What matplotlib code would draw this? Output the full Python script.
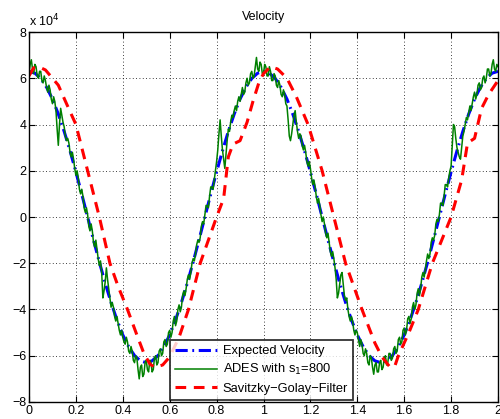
import matplotlib
matplotlib.use('Agg')
import matplotlib.pyplot as plt
import numpy as np

plt.rcParams['font.family'] = ['Liberation Sans', 'DejaVu Sans']

# values in units of 1e4
expected_vel = [6.30, 6.22, 5.99, 5.61, 5.10, 4.45, 3.70, 2.86, 1.95, 0.99,
                0.00, -0.99, -1.95, -2.86, -3.70, -4.45, -5.10, -5.61, -5.99, -6.22,
                -6.30, -6.22, -5.99, -5.61, -5.10, -4.45, -3.70, -2.86, -1.95, -0.99,
                0.00, 0.99, 1.95, 2.86, 3.70, 4.45, 5.10, 5.61, 5.99, 6.22,
                6.30, 6.22, 5.99, 5.61, 5.10, 4.45, 3.70, 2.86, 1.95, 0.99,
                0.00, -0.99, -1.95, -2.86, -3.70, -4.45, -5.10, -5.61, -5.99, -6.22,
                -6.30, -6.22, -5.99, -5.61, -5.10, -4.45, -3.70, -2.86, -1.95, -0.99,
                0.00, 0.99, 1.95, 2.86, 3.70, 4.45, 5.10, 5.61, 5.99, 6.22,
                6.30]

# ADES estimate, one value every 0.005 s
ades_vel = [
    6.2, 6.6, 6.8, 6.4, 6.2, 6.6, 6.5, 6.1, 6.0, 6.3, 6.3, 5.9, 5.8, 6.1, 5.9, 5.6, 5.4, 5.7, 5.5, 5.1,
    4.9, 5.2, 5.0, 4.6, 3.8, 3.1, 4.0, 4.7, 4.4, 4.1, 3.9, 3.5, 3.3, 3.4, 3.2, 2.8, 2.6, 2.8, 2.5, 2.1,
    1.8, 2.0, 1.7, 1.2, 1.0, 1.2, 0.9, 0.4, 0.2, 0.4, 0.1, -0.4, -0.6, -0.3, -0.6, -1.1, -1.3, -1.0, -1.4, -1.8,
    -2.1, -1.9, -2.4, -3.5, -3.2, -2.8, -2.2, -2.7, -3.1, -3.5, -3.9, -3.7, -3.9, -4.3, -4.5, -4.3, -4.6, -4.9, -5.1, -4.9,
    -5.2, -5.4, -5.5, -5.2, -5.4, -5.8, -5.9, -5.6, -5.8, -6.2, -6.3, -6.0, -6.1, -6.6, -7.0, -6.5, -6.4, -6.9, -6.8, -6.3,
    -6.2, -6.6, -6.7, -6.2, -6.3, -6.7, -6.6, -6.1, -6.0, -6.4, -6.3, -5.8, -5.7, -6.0, -5.9, -5.4, -5.3, -5.6, -5.5, -5.0,
    -4.9, -5.2, -5.0, -4.5, -4.3, -4.7, -4.5, -4.0, -3.8, -4.1, -3.9, -3.4, -3.2, -3.4, -3.1, -2.7, -2.5, -2.7, -2.4, -2.0,
    -1.8, -1.9, -1.6, -1.2, -1.0, -1.1, -0.9, -0.4, -0.2, -0.3, 0.1, 0.5, 0.5, 0.4, 0.9, 1.3, 1.3, 1.2, 1.6, 2.0,
    2.4, 2.9, 3.6, 4.2, 3.5, 2.9, 2.5, 2.1, 2.7, 3.3, 3.8, 3.7, 4.1, 4.4, 4.3, 4.6, 4.8, 4.6, 5.0, 5.2,
    5.0, 5.3, 5.6, 5.3, 5.4, 5.8, 6.0, 5.7, 5.8, 6.2, 6.3, 6.0, 6.1, 6.5, 6.9, 6.4, 6.3, 6.7, 6.6, 6.2,
    6.2, 6.6, 6.5, 6.1, 6.1, 6.5, 6.3, 5.9, 5.9, 6.2, 6.1, 5.7, 5.6, 5.9, 5.7, 5.3, 5.2, 5.5, 5.3, 4.9,
    4.8, 4.2, 3.5, 3.3, 3.6, 4.0, 4.4, 4.6, 4.1, 3.7, 3.4, 3.6, 3.5, 3.1, 2.9, 3.1, 2.8, 2.4, 2.2, 2.4,
    2.1, 1.7, 1.4, 1.6, 1.3, 0.9, 0.6, 0.8, 0.5, 0.1, -0.2, 0.0, -0.3, -0.7, -0.9, -0.7, -1.1, -1.5, -1.7, -1.5,
    -1.8, -2.2, -2.7, -3.5, -3.3, -2.9, -2.5, -2.4, -2.9, -3.4, -3.6, -3.5, -4.0, -4.3, -4.5, -4.3, -4.5, -4.9, -5.1, -4.9,
    -5.0, -5.3, -5.6, -5.3, -5.5, -5.9, -6.0, -5.7, -5.9, -6.3, -6.4, -6.0, -6.1, -6.5, -6.8, -6.4, -6.3, -6.7, -6.7, -6.3,
    -6.2, -6.6, -6.5, -6.1, -6.0, -6.4, -6.3, -5.9, -5.9, -6.2, -6.1, -5.7, -5.6, -5.9, -5.8, -5.3, -5.2, -5.5, -5.4, -4.9,
    -4.8, -5.1, -4.9, -4.4, -4.3, -4.6, -4.4, -3.9, -3.7, -4.0, -3.8, -3.3, -3.1, -3.4, -3.1, -2.6, -2.4, -2.6, -2.3, -1.9,
    -1.6, -1.8, -1.6, -1.1, -0.9, -1.0, -0.8, -0.3, -0.1, -0.2, 0.1, 0.6, 0.6, 0.5, 0.9, 1.4, 1.4, 1.3, 1.7, 2.0,
    2.2, 3.1, 4.0, 3.9, 3.4, 3.0, 2.8, 2.6, 2.5, 3.0, 3.5, 3.7, 4.0, 4.3, 4.2, 4.5, 4.8, 4.6, 4.9, 5.2,
    5.4, 5.1, 5.3, 5.7, 5.8, 5.5, 5.6, 6.0, 6.1, 5.8, 6.0, 6.4, 6.4, 6.1, 6.2, 6.6, 6.8, 6.4, 6.3, 6.6,
    6.5]

sg_t = [0.00, 0.02, 0.04, 0.07, 0.10, 0.125, 0.16, 0.20, 0.25, 0.30,
        0.345, 0.38, 0.42, 0.46, 0.49, 0.515, 0.535, 0.57, 0.60, 0.64,
        0.68, 0.73, 0.765, 0.80, 0.83, 0.85, 0.87, 0.90, 0.93, 0.955,
        0.98, 1.00, 1.03, 1.06, 1.10, 1.14, 1.19, 1.25, 1.30, 1.35,
        1.42, 1.475, 1.505, 1.54, 1.56, 1.575, 1.62, 1.66, 1.72, 1.80,
        1.845, 1.87, 1.90, 1.93, 1.96, 2.00]
sg_vel = [6.1, 6.45, 6.5, 6.36, 6.0, 5.7, 4.9, 4.0, 2.0, 0.0,
          -2.0, -3.0, -4.0, -5.1, -5.9, -6.35, -6.5, -6.4, -6.05, -5.2,
          -4.0, -2.0, -1.0, 0.0, 0.8, 2.6, 3.15, 3.3, 4.1, 5.0,
          5.8, 6.2, 6.5, 6.4, 6.0, 5.2, 4.0, 2.0, 0.0, -2.0,
          -4.0, -5.45, -6.05, -6.5, -6.45, -6.0, -5.0, -4.0, -2.0, 0.0,
          1.6, 3.2, 3.4, 4.7, 5.3, 5.9]

t_exp = np.linspace(0, 2, len(expected_vel))
t_ades = np.linspace(0, 2, len(ades_vel))

fig = plt.figure(figsize=(5.0, 4.19), dpi=100)
ax = fig.add_axes([0.058, 0.0406, 0.938, 0.883])

ax.plot(t_exp, expected_vel, color='#0000ff', lw=2.2,
        linestyle=(0, (4, 1.5, 0.6, 1.5)), label='Expected Velocity')
ax.plot(t_ades, ades_vel, color='#008000', lw=1.1, label='ADES with s$_1$=800')
ax.plot(sg_t, sg_vel, color='#ff0000', lw=2.2,
        linestyle=(0, (3.5, 2.5)), label='Savitzky\u2212Golay\u2212Filter')

ax.set_xlim(0, 2)
ax.set_ylim(-8, 8)
ax.set_xticks(np.arange(0, 2.01, 0.2))
ax.set_xticklabels(['0', '0.2', '0.4', '0.6', '0.8', '1', '1.2', '1.4', '1.6', '1.8', '2'])
ax.set_yticks(np.arange(-8, 9, 2))
ax.set_yticklabels(['\u22128', '\u22126', '\u22124', '\u22122', '0', '2', '4', '6', '8'])
ax.tick_params(direction='in', length=4, width=0.8, labelsize=9,
               top=True, right=True, pad=2)
ax.grid(True, color='black', linestyle=(0, (1, 3)), linewidth=0.6)
for s in ax.spines.values():
    s.set_linewidth(1.0)

ax.set_title('Velocity', fontsize=9, pad=9)
ax.text(0.0, 1.008, 'x 10$^4$', transform=ax.transAxes, fontsize=9,
        ha='left', va='bottom')

leg = ax.legend(loc='lower left', bbox_to_anchor=(0.3, 0.006), fontsize=9.3,
                handlelength=3.3, frameon=True, fancybox=False,
                borderpad=0.4, labelspacing=0.4, handletextpad=0.4,
                borderaxespad=0.0)
leg.get_frame().set_edgecolor('black')
leg.get_frame().set_linewidth(1.3)

fig.savefig('out.png', dpi=100)
